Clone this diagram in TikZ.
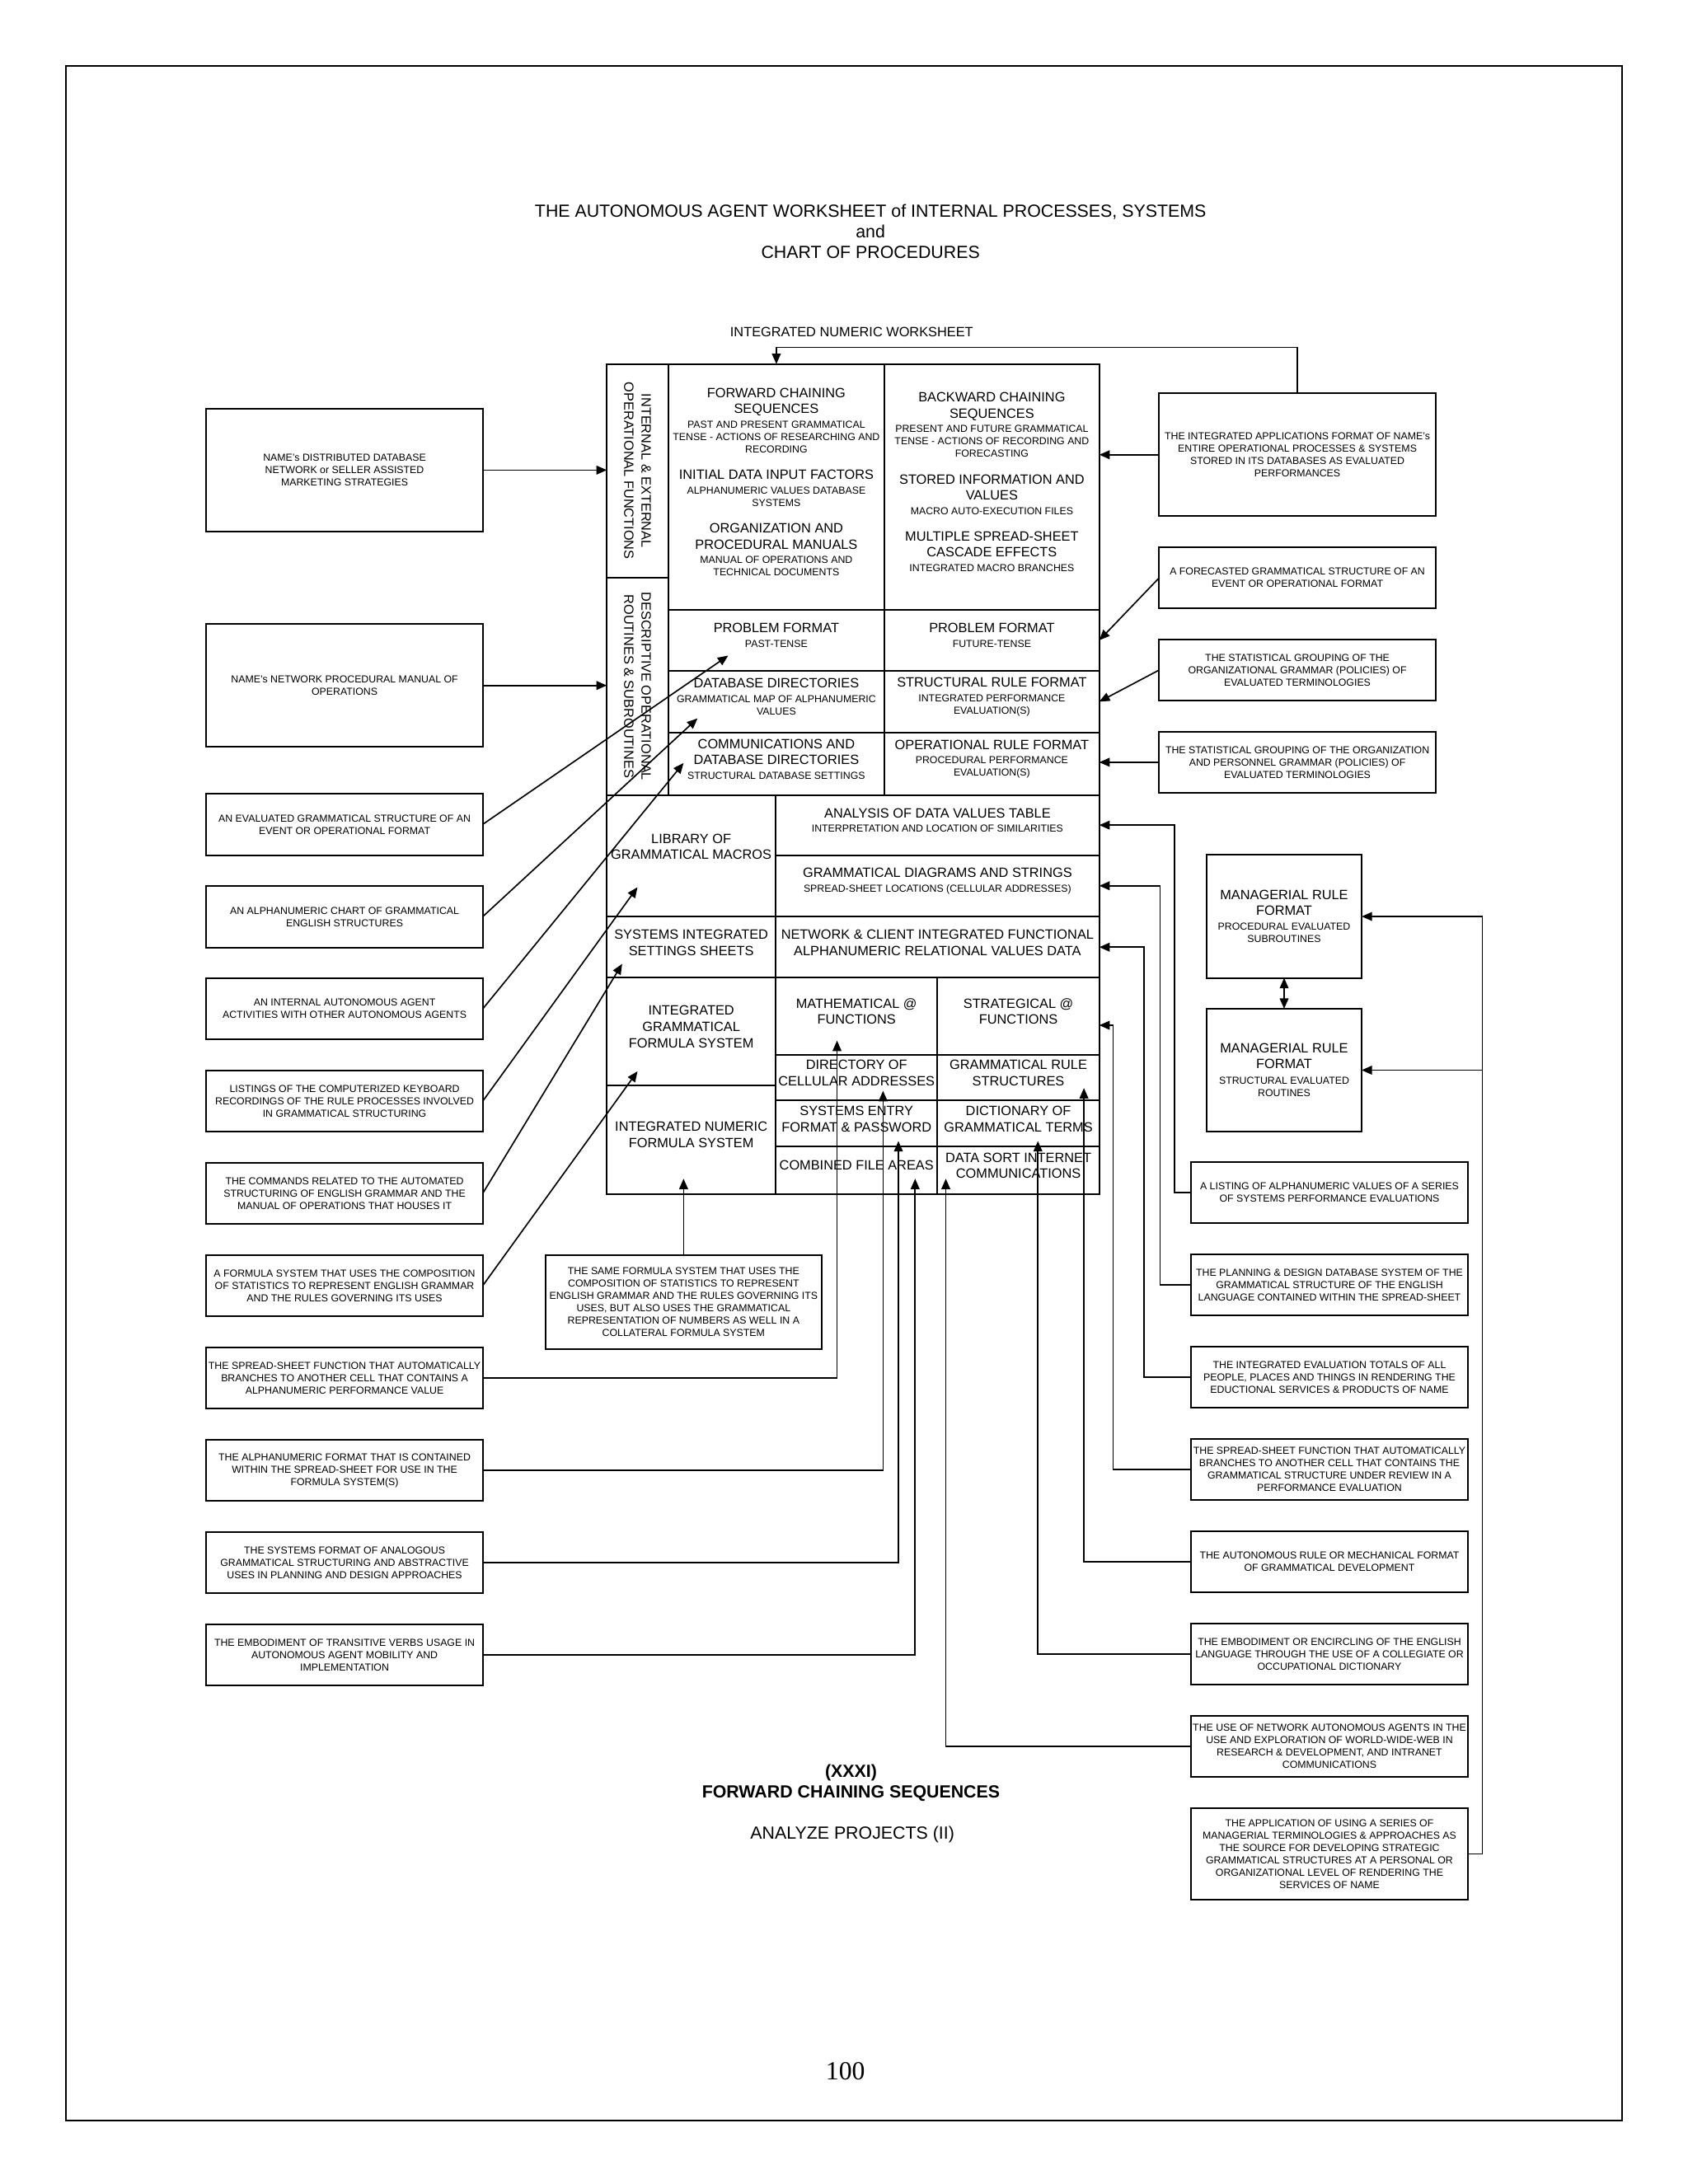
\documentclass[tikz,border=0pt]{standalone}
\usepackage{fontspec}
\setmainfont{Liberation Sans}
\newfontfamily\pagefont{Liberation Serif}
\usepackage{tikz}
\usetikzlibrary{positioning, fit, arrows.meta}
\newcommand\smalltxt{\fontsize{3.7pt}{4.5pt}\selectfont}
\newcommand\headtxt{\fontsize{4.9pt}{5.9pt}\selectfont}
\newcommand\titletxt{\fontsize{6.4pt}{7.4pt}\selectfont}
\newcommand\cellhead[1]{{\headtxt #1}}
\tikzstyle{note} = [rectangle, draw=black, line width=0.6pt, text centered, align=center, font=\smalltxt, inner sep=0pt, outer sep=0pt, minimum width=100.5pt, minimum height=22.35pt]
\tikzstyle{cell} = [rectangle, draw=black, line width=0.6pt, align=center, font=\headtxt, inner sep=0pt, outer sep=0pt]
\tikzstyle{mixcell} = [cell, font=\smalltxt]
\tikzstyle{titletext} = [align=center, font=\titletxt]
\tikzstyle{arrow} = [line width=0.5pt, ->, >={Triangle[length=3.8pt, width=3.2pt]}]
\tikzstyle{twoway} = [line width=0.5pt, <->, >={Triangle[length=3.8pt, width=3.2pt]}]
\begin{document}
\begin{tikzpicture}[x=0.017843cm, y=-0.017843cm]
\useasboundingbox (0,0) rectangle (1210,1565.7);
\draw [line width=0.6pt] (47,47) rectangle (1163,1520);
\node (title) [titletext] at (624,166) {THE AUTONOMOUS AGENT WORKSHEET of INTERNAL PROCESSES, SYSTEMS\\and\\CHART OF PROCEDURES};
\node (int_num) [font=\headtxt] at (610.5,238) {INTEGRATED NUMERIC WORKSHEET};
\node (int_ext) [cell, fit={(435,261) (479,414)}] {};
\node (descr_ops) [cell, fit={(435,414) (479,570)}] {};
\node (int_ext_txt) [rotate=-90, font=\headtxt, align=center] at (int_ext.center) {INTERNAL \& EXTERNAL\\[0.4pt]OPERATIONAL FUNCTIONS};
\node (descr_ops_txt) [rotate=-90, font=\headtxt, align=center] at (descr_ops.center) {DESCRIPTIVE OPERATIONAL\\[0.4pt]ROUTINES \& SUBROUTINES};
\node (fwd_seq) [mixcell, fit={(479,261) (634,437)}] {\cellhead{FORWARD CHAINING}\\[1.3pt]\cellhead{SEQUENCES}\\[0.8pt]PAST AND PRESENT GRAMMATICAL\\TENSE - ACTIONS OF RESEARCHING AND\\RECORDING\\[5.2pt]\cellhead{INITIAL DATA INPUT FACTORS}\\[0.8pt]ALPHANUMERIC VALUES DATABASE\\SYSTEMS\\[5.2pt]\cellhead{ORGANIZATION AND}\\[1.3pt]\cellhead{PROCEDURAL MANUALS}\\[0.8pt]MANUAL OF OPERATIONS AND\\TECHNICAL DOCUMENTS};
\node (bwd_seq) [mixcell, fit={(634,261) (788,437)}] {\cellhead{BACKWARD CHAINING}\\[1.3pt]\cellhead{SEQUENCES}\\[0.8pt]PRESENT AND FUTURE GRAMMATICAL\\TENSE - ACTIONS OF RECORDING AND\\FORECASTING\\[5.2pt]\cellhead{STORED INFORMATION AND}\\[1.3pt]\cellhead{VALUES}\\[0.8pt]MACRO AUTO-EXECUTION FILES\\[5.2pt]\cellhead{MULTIPLE SPREAD-SHEET}\\[1.3pt]\cellhead{CASCADE EFFECTS}\\[0.8pt]INTEGRATED MACRO BRANCHES};
\node (prob_past) [mixcell, fit={(479,437) (634,481)}] {\cellhead{PROBLEM FORMAT}\\[0.8pt]PAST-TENSE};
\node (prob_fut) [mixcell, fit={(634,437) (788,481)}] {\cellhead{PROBLEM FORMAT}\\[0.8pt]FUTURE-TENSE};
\node (db_dir) [mixcell, fit={(479,481) (634,525)}] {\cellhead{DATABASE DIRECTORIES}\\[0.8pt]GRAMMATICAL MAP OF ALPHANUMERIC\\VALUES};
\node (struct_rule) [mixcell, fit={(634,481) (788,525)}] {\cellhead{STRUCTURAL RULE FORMAT}\\[0.8pt]INTEGRATED PERFORMANCE\\EVALUATION(S)};
\node (comm_dir) [mixcell, fit={(479,525) (634,570)}] {\cellhead{COMMUNICATIONS AND}\\[1.3pt]\cellhead{DATABASE DIRECTORIES}\\[0.8pt]STRUCTURAL DATABASE SETTINGS};
\node (op_rule) [mixcell, fit={(634,525) (788,570)}] {\cellhead{OPERATIONAL RULE FORMAT}\\[0.8pt]PROCEDURAL PERFORMANCE\\EVALUATION(S)};
\node (lib_macros) [cell, fit={(435,570) (556,657)}] {};
\node (lib_txt) [font=\headtxt, align=center] at (495.5,607) {LIBRARY OF\\GRAMMATICAL MACROS};
\node (analysis) [mixcell, fit={(556,570) (788,613)}] {\cellhead{ANALYSIS OF DATA VALUES TABLE}\\[0.8pt]INTERPRETATION AND LOCATION OF SIMILARITIES};
\node (gram_diag) [mixcell, fit={(556,613) (788,657)}] {\cellhead{GRAMMATICAL DIAGRAMS AND STRINGS}\\[0.8pt]SPREAD-SHEET LOCATIONS (CELLULAR ADDRESSES)};
\node (sys_sheets) [cell, fit={(435,657) (556,701)}] {SYSTEMS INTEGRATED\\SETTINGS SHEETS};
\node (net_client) [cell, fit={(556,657) (788,701)}] {NETWORK \& CLIENT INTEGRATED FUNCTIONAL\\ALPHANUMERIC RELATIONAL VALUES DATA};
\node (igf_sys) [cell, fit={(435,701) (556,778)}] {INTEGRATED\\GRAMMATICAL\\FORMULA SYSTEM};
\node (inf_sys) [cell, fit={(435,778) (556,856)}] {INTEGRATED NUMERIC\\FORMULA SYSTEM};
\node (math_fn) [cell, fit={(556,701) (672,756)}] {MATHEMATICAL @\\FUNCTIONS};
\node (strat_fn) [cell, fit={(672,701) (788,756)}] {STRATEGICAL @\\FUNCTIONS};
\node (cell_dir) [cell, fit={(556,756) (672,789)}] {DIRECTORY OF\\CELLULAR ADDRESSES};
\node (gram_rule) [cell, fit={(672,756) (788,789)}] {GRAMMATICAL RULE\\STRUCTURES};
\node (sys_entry) [cell, fit={(556,789) (672,822)}] {SYSTEMS ENTRY\\FORMAT \& PASSWORD};
\node (gram_dict) [cell, fit={(672,789) (788,822)}] {DICTIONARY OF\\GRAMMATICAL TERMS};
\node (file_areas) [cell, fit={(556,822) (672,856)}] {COMBINED FILE AREAS};
\node (data_sort) [cell, fit={(672,822) (788,856)}] {DATA SORT INTERNET\\COMMUNICATIONS};
\node (name_db) [note, minimum height=44.7pt] at (247,337) {NAME's DISTRIBUTED DATABASE\\NETWORK or SELLER ASSISTED\\MARKETING STRATEGIES};
\node (name_manual) [note, minimum height=44.7pt] at (247,491.4) {NAME's NETWORK PROCEDURAL MANUAL OF\\OPERATIONS};
\node (eval_struct) [note] at (247,591) {AN EVALUATED GRAMMATICAL STRUCTURE OF AN\\EVENT OR OPERATIONAL FORMAT};
\node (alpha_chart) [note, below=11.22pt of eval_struct] {AN ALPHANUMERIC CHART OF GRAMMATICAL\\ENGLISH STRUCTURES};
\node (agent_act) [note, below=11.22pt of alpha_chart] {AN INTERNAL AUTONOMOUS AGENT\\ACTIVITIES WITH OTHER AUTONOMOUS AGENTS};
\node (key_list) [note, below=11.22pt of agent_act] {LISTINGS OF THE COMPUTERIZED KEYBOARD\\RECORDINGS OF THE  RULE PROCESSES INVOLVED\\IN GRAMMATICAL STRUCTURING};
\node (commands) [note, below=11.22pt of key_list] {THE COMMANDS RELATED TO THE AUTOMATED\\STRUCTURING OF ENGLISH GRAMMAR AND THE\\MANUAL OF OPERATIONS THAT HOUSES IT};
\node (formula_sys) [note, below=11.22pt of commands] {A FORMULA SYSTEM THAT USES THE COMPOSITION\\OF STATISTICS TO REPRESENT ENGLISH GRAMMAR\\AND THE RULES GOVERNING ITS USES};
\node (sheet_fn) [note, below=11.22pt of formula_sys] {THE SPREAD-SHEET FUNCTION THAT AUTOMATICALLY\\BRANCHES TO ANOTHER CELL THAT CONTAINS A\\ALPHANUMERIC PERFORMANCE VALUE};
\node (alpha_fmt) [note, below=11.22pt of sheet_fn] {THE ALPHANUMERIC FORMAT THAT IS CONTAINED\\WITHIN THE SPREAD-SHEET FOR USE IN THE\\FORMULA SYSTEM(S)};
\node (sys_fmt) [note, below=11.22pt of alpha_fmt] {THE SYSTEMS FORMAT OF ANALOGOUS\\GRAMMATICAL STRUCTURING AND ABSTRACTIVE\\USES IN PLANNING AND DESIGN APPROACHES};
\node (verb_use) [note, below=11.22pt of sys_fmt] {THE EMBODIMENT OF TRANSITIVE VERBS USAGE IN\\AUTONOMOUS AGENT MOBILITY AND\\IMPLEMENTATION};
\node (apps_fmt) [note, minimum height=44.7pt] at (930,326) {THE INTEGRATED APPLICATIONS FORMAT OF NAME's\\ENTIRE OPERATIONAL PROCESSES \& SYSTEMS\\STORED IN ITS DATABASES AS EVALUATED\\PERFORMANCES};
\node (forecast) [note, below=11.22pt of apps_fmt] {A FORECASTED GRAMMATICAL STRUCTURE OF AN\\EVENT OR OPERATIONAL FORMAT};
\node (stat_org) [note, below=11.22pt of forecast] {THE STATISTICAL GROUPING OF THE\\ORGANIZATIONAL GRAMMAR (POLICIES) OF\\EVALUATED TERMINOLOGIES};
\node (stat_pers) [note, below=11.22pt of stat_org] {THE STATISTICAL GROUPING OF THE ORGANIZATION\\AND PERSONNEL GRAMMAR (POLICIES) OF\\EVALUATED TERMINOLOGIES};
\node (mgr_proc) [note, minimum width=56.4pt, minimum height=44.7pt] at (920.5,657) {\cellhead{MANAGERIAL RULE}\\[1.1pt]\cellhead{FORMAT}\\[1.1pt]PROCEDURAL EVALUATED\\SUBROUTINES};
\node (mgr_struct) [note, minimum width=56.4pt, minimum height=44.7pt, below=11.22pt of mgr_proc] {\cellhead{MANAGERIAL RULE}\\[1.1pt]\cellhead{FORMAT}\\[1.1pt]STRUCTURAL EVALUATED\\ROUTINES};
\node (value_list) [note] at (953,855) {A LISTING OF ALPHANUMERIC VALUES OF A SERIES\\OF SYSTEMS PERFORMANCE EVALUATIONS};
\node (plan_db) [note, below=11.22pt of value_list] {THE PLANNING \& DESIGN DATABASE SYSTEM OF THE\\GRAMMATICAL STRUCTURE OF THE ENGLISH\\LANGUAGE CONTAINED WITHIN THE SPREAD-SHEET};
\node (eval_tot) [note, below=11.22pt of plan_db] {THE INTEGRATED EVALUATION TOTALS OF ALL\\PEOPLE, PLACES AND THINGS IN RENDERING THE\\EDUCTIONAL SERVICES \& PRODUCTS OF NAME};
\node (sheet_fn2) [note, below=11.22pt of eval_tot] {THE SPREAD-SHEET FUNCTION THAT AUTOMATICALLY\\BRANCHES TO ANOTHER CELL THAT CONTAINS THE\\GRAMMATICAL STRUCTURE UNDER REVIEW IN A\\PERFORMANCE EVALUATION};
\node (rule_fmt) [note, below=11.22pt of sheet_fn2] {THE AUTONOMOUS RULE OR MECHANICAL FORMAT\\OF GRAMMATICAL DEVELOPMENT};
\node (encircle) [note, below=11.22pt of rule_fmt] {THE EMBODIMENT OR ENCIRCLING OF THE ENGLISH\\LANGUAGE THROUGH THE USE OF A COLLEGIATE OR\\OCCUPATIONAL DICTIONARY};
\node (net_agents) [note, below=11.22pt of encircle] {THE USE OF NETWORK AUTONOMOUS AGENTS IN THE\\USE AND EXPLORATION OF WORLD-WIDE-WEB IN\\RESEARCH \& DEVELOPMENT, AND INTRANET\\COMMUNICATIONS};
\node (mgr_terms) [note, minimum height=33.5pt, below=11.22pt of net_agents] {THE APPLICATION OF USING A SERIES OF\\MANAGERIAL TERMINOLOGIES \& APPROACHES AS\\THE SOURCE FOR DEVELOPING STRATEGIC\\GRAMMATICAL STRUCTURES AT A PERSONAL OR\\ORGANIZATIONAL LEVEL OF RENDERING THE\\SERVICES OF NAME};
\node (same_formula) [note, minimum height=34pt] at (490,933.5) {THE SAME FORMULA SYSTEM THAT USES THE\\COMPOSITION OF STATISTICS TO REPRESENT\\ENGLISH GRAMMAR AND THE RULES GOVERNING ITS\\USES, BUT ALSO USES THE GRAMMATICAL\\REPRESENTATION OF NUMBERS AS WELL IN A\\COLLATERAL FORMULA SYSTEM};
\node (chapter) [titletext, font=\titletxt\bfseries] at (610,1278) {(XXXI)\\FORWARD CHAINING SEQUENCES};
\node (projects) [titletext] at (611,1315) {ANALYZE PROJECTS (II)};
\node (page_no) [font=\pagefont\fontsize{9.5pt}{11pt}\selectfont] at (606,1485) {100};
\coordinate (eval_struct_tip) at (522,470);
\coordinate (alpha_chart_tip) at (500,515);
\coordinate (agent_act_tip) at (490,547);
\coordinate (key_list_tip) at (457,636);
\coordinate (commands_tip) at (446,691);
\coordinate (formula_sys_tip) at (457,768);
\coordinate (sheet_fn_tip) at (600,746);
\coordinate (alpha_fmt_tip) at (633,782);
\coordinate (sys_fmt_tip) at (644,818);
\coordinate (verb_use_tip) at (656,845);
\coordinate (same_formula_tip) at (490,845);
\coordinate (sheet_fn2_tip) at (788,735);
\coordinate (rule_fmt_tip) at (777,780);
\coordinate (encircle_tip) at (744,818);
\coordinate (net_agents_tip) at (678,845);
\draw [arrow] (apps_fmt.north) -- ++(0,-33) -| (fwd_seq.north);
\draw [arrow] (name_db.east) -- (name_db.east -| int_ext.west);
\draw [arrow] (name_manual.east) -- (name_manual.east -| descr_ops.west);
\draw [arrow] (eval_struct.east) -- (eval_struct_tip);
\draw [arrow] (alpha_chart.east) -- (alpha_chart_tip);
\draw [arrow] (agent_act.east) -- (agent_act_tip);
\draw [arrow] (key_list.east) -- (key_list_tip);
\draw [arrow] (commands.east) -- (commands_tip);
\draw [arrow] (formula_sys.east) -- (formula_sys_tip);
\draw [arrow] (sheet_fn.east) -| (sheet_fn_tip);
\draw [arrow] (alpha_fmt.east) -| (alpha_fmt_tip);
\draw [arrow] (sys_fmt.east) -| (sys_fmt_tip);
\draw [arrow] (verb_use.east) -| (verb_use_tip);
\draw [arrow] (same_formula.north) -- (same_formula_tip);
\draw [arrow] (apps_fmt.west) -- (apps_fmt.west -| bwd_seq.east);
\draw [arrow] (forecast.west) -- (prob_fut.east);
\draw [arrow] (stat_org.west) -- (struct_rule.east);
\draw [arrow] (stat_pers.west) -- (stat_pers.west -| op_rule.east);
\draw [twoway] (mgr_proc.south) -- (mgr_struct.north);
\draw [arrow] (value_list.west) -- ++(-12,0) |- (analysis.east);
\draw [arrow] (plan_db.west) -- ++(-22.5,0) |- (gram_diag.east);
\draw [arrow] (eval_tot.west) -- ++(-34,0) |- (net_client.east);
\draw [arrow] (sheet_fn2.west) -- ++(-56,0) |- (sheet_fn2_tip);
\draw [arrow] (rule_fmt.west) -| (rule_fmt_tip);
\draw [arrow] (encircle.west) -| (encircle_tip);
\draw [arrow] (net_agents.west) -| (net_agents_tip);
\draw [arrow] (mgr_terms.east) -- ++(10.5,0) |- (mgr_proc.east);
\draw [arrow] (mgr_terms.east) -- ++(10.5,0) |- (mgr_struct.east);
\end{tikzpicture}
\end{document}
